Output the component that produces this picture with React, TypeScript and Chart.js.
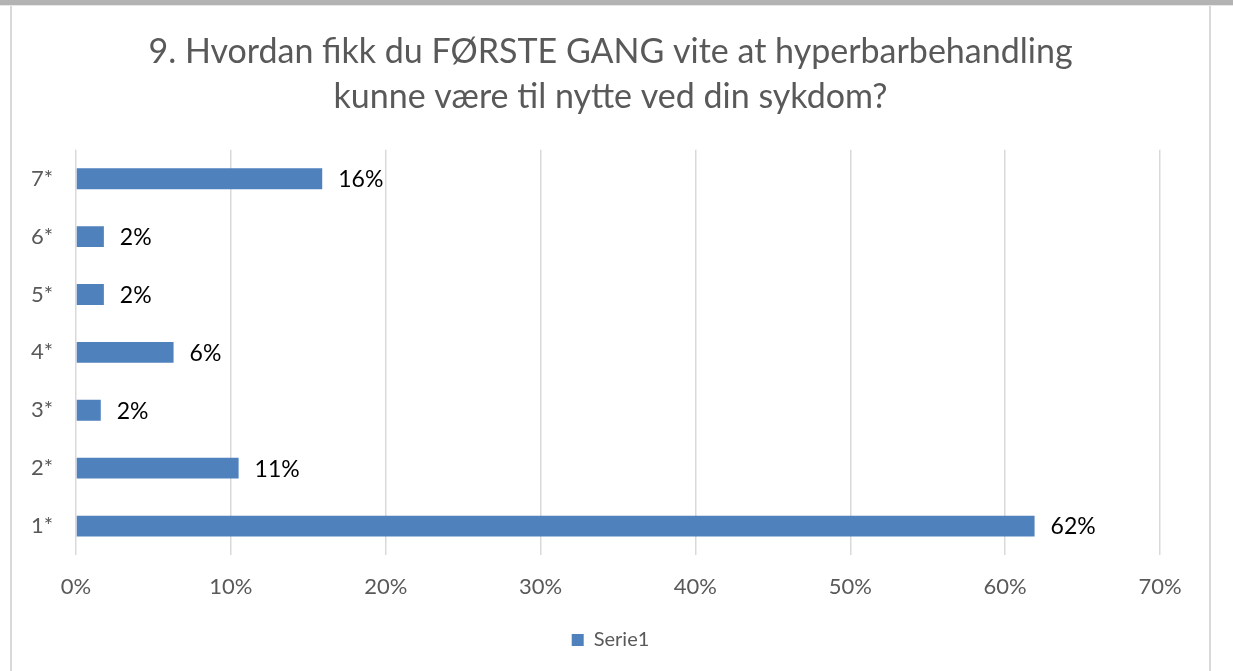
import React, { useEffect, useRef } from "react";
import { Chart, registerables } from "chart.js";

Chart.register(...registerables);

const titleLines = [
  "9. Hvordan fikk du FØRSTE GANG vite at hyperbarbehandling",
  "kunne være til nytte ved din sykdom?",
];
const categories = ["1*", "2*", "3*", "4*", "5*", "6*", "7*"];
const seriesName = "Serie1";
const values = [61.9, 10.5, 1.6, 6.3, 1.8, 1.8, 15.9];
const xTicks = [0, 10, 20, 30, 40, 50, 60, 70];

const FONT = "Lato, 'Open Sans', sans-serif";
const BLUE = "#4f81bd";
const GREY_TEXT = "#595959";

const dataLabelPlugin = {
  id: "dataLabels",
  afterDatasetsDraw(chart: any) {
    const ctx = chart.ctx;
    const meta = chart.getDatasetMeta(0);
    ctx.save();
    ctx.font = `23px ${FONT}`;
    ctx.fillStyle = "#000000";
    ctx.textAlign = "left";
    ctx.textBaseline = "middle";
    meta.data.forEach((bar: any, i: number) => {
      const v = chart.data.datasets[0].data[i] as number;
      ctx.fillText(Math.round(v) + "%", bar.x + 16, bar.y + 1);
    });
    ctx.restore();
  },
};

export default function App() {
  const ref = useRef<HTMLCanvasElement | null>(null);
  useEffect(() => {
    if (!ref.current) return;
    const chart = new Chart(ref.current, {
      type: "bar",
      data: {
        labels: categories,
        datasets: [
          {
            label: seriesName,
            data: values,
            backgroundColor: BLUE,
            borderWidth: 0,
            barPercentage: 0.36,
            categoryPercentage: 1,
            yAxisID: "y",
          },
        ],
      },
      options: {
        indexAxis: "y",
        animation: false,
        responsive: true,
        maintainAspectRatio: false,
        layout: { padding: { left: 0, right: 0, top: 0, bottom: 11 } },
        plugins: {
          title: {
            display: true,
            text: titleLines,
            color: GREY_TEXT,
            font: { family: FONT, size: 34, weight: "normal", lineHeight: 1.32 },
            padding: { top: 24.5, bottom: 30.5 },
          },
          legend: {
            display: true,
            position: "bottom",
            labels: {
              color: GREY_TEXT,
              font: { family: FONT, size: 20 },
              boxWidth: 12,
              boxHeight: 12,
              padding: 10,
            },
          },
          tooltip: { enabled: false },
        },
        scales: {
          x: {
            type: "linear",
            min: xTicks[0],
            max: xTicks[xTicks.length - 1],
            afterBuildTicks: (scale: any) => {
              scale.ticks = xTicks.map((v) => ({ value: v }));
            },
            afterFit: (scale: any) => {
              scale.height = 65;
            },
            ticks: {
              color: GREY_TEXT,
              font: { family: FONT, size: 22 },
              padding: 19,
              callback: (v: any) => v + "%",
            },
            grid: { color: "#d9d9d9", lineWidth: 1.5, drawTicks: false },
            border: { display: false },
          },
          y: {
            type: "category",
            position: "left",
            reverse: true,
            afterFit: (scale: any) => {
              scale.width = 64;
            },
            ticks: {
              color: GREY_TEXT,
              font: { family: FONT, size: 22 },
              padding: 23,
            },
            grid: { display: false, drawTicks: false },
            border: { display: false },
          },
          yRight: {
            type: "category",
            position: "right",
            display: true,
            afterFit: (scale: any) => {
              scale.width = 49;
            },
            ticks: { display: false },
            grid: { display: false, drawTicks: false },
            border: { display: false },
          },
        },
      },
      plugins: [dataLabelPlugin],
    });
    return () => chart.destroy();
  }, []);

  return (
    <div style={{ position: "fixed", left: 0, top: 0, width: 1233, height: 671, background: "#ffffff", overflow: "hidden" }}>
      <div style={{ position: "absolute", left: 0, top: 0, width: 1233, height: 5, background: "#b3b3b3" }} />
      <div style={{ position: "absolute", left: 0, top: 5, width: 1233, height: 1, background: "#e6e6e6" }} />
      <div style={{ position: "absolute", left: 10, top: 6, width: 2, height: 665, background: "#d9d9d9" }} />
      <div style={{ position: "absolute", left: 1209, top: 6, width: 2, height: 665, background: "#d9d9d9" }} />
      <div style={{ position: "absolute", left: 12, top: 5, width: 1197, height: 666 }}>
        <canvas ref={ref} />
      </div>
    </div>
  );
}
